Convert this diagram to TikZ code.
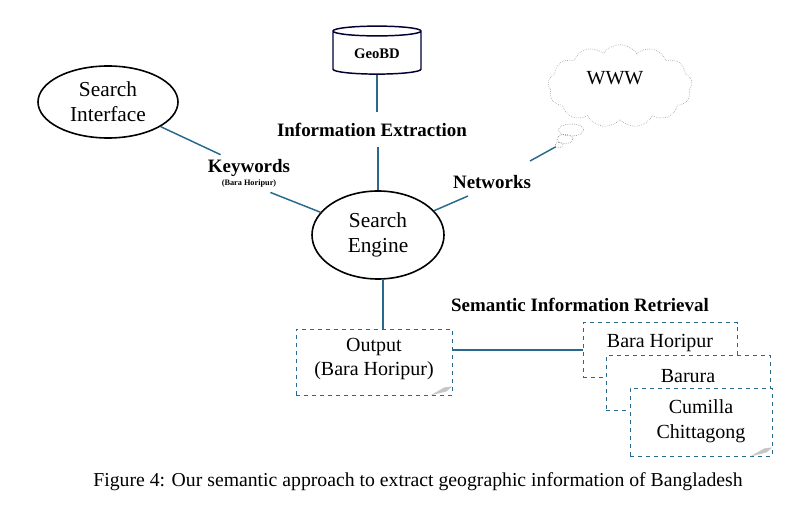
\documentclass[tikz,border=0pt]{standalone}
\usepackage{fontspec}
\setmainfont{Liberation Serif}
\usetikzlibrary{shapes.geometric,shapes.symbols}
\definecolor{teal1}{RGB}{40,105,140}
\begin{document}
\begin{tikzpicture}[x=0.75pt,y=-0.75pt,
  conn/.style={teal1,line width=1.1pt},
  ell/.style={ellipse,draw=black,line width=1.2pt,font=\fontsize{16}{18.5}\selectfont,align=center,inner sep=0pt},
  lbl/.style={font=\bfseries\fontsize{14.2}{16}\selectfont},
  txt/.style={font=\fontsize{15}{18.5}\selectfont,align=center},
  doc/.style={draw=teal1,dashed,line width=0.6pt,rectangle,inner sep=0pt},
  fold/.style={fill=gray!45}]
\useasboundingbox (0,0) rectangle (810,513);
\node[ell,minimum width=105pt,minimum height=54pt] (si) at (108,102) {Search\\Interface};
\node[ell,minimum width=99pt,minimum height=66pt] (se) at (378,235) {Search\\Engine};
\node[cylinder,shape border rotate=90,draw=black!80!blue,line width=1.1pt,aspect=0.18,minimum width=66pt,minimum height=36pt,font=\bfseries\fontsize{11}{13}\selectfont] (db) at (377,54) {GeoBD};
\node[lbl] (ie) at (372,130) {Information Extraction};
\coordinate (ie1) at (377,112); \coordinate (ie2) at (378,147);
\node[lbl] (kw) at (249,168) {Keywords};
\node[font=\bfseries\fontsize{6.2}{7}\selectfont] (kwb) at (249,184) {(Bara Horipur)};
\node[lbl] (nw) at (492,182) {Networks};
\node[cloud,cloud puffs=13,cloud puff arc=110,aspect=1.8,draw=gray,densely dotted,minimum width=108pt,minimum height=62pt] (www) at (620,86) {};
\node[txt] (wt) at (615,78) {WWW};
\node[ellipse,draw=gray!80!black,densely dotted,minimum width=19pt,minimum height=9pt,inner sep=0pt] (c1) at (571,130) {};
\node[ellipse,draw=gray!80!black,densely dotted,minimum width=12pt,minimum height=7pt,inner sep=0pt] (c2) at (565,139) {};
\node[ellipse,draw=gray!80!black,densely dotted,minimum width=6pt,minimum height=4pt,inner sep=0pt] (c3) at (559,145) {};
\coordinate (n2) at (468,196);
\coordinate (n3) at (530,161);
\node[lbl] (sir) at (580,305) {Semantic Information Retrieval};
% document boxes
\node[doc,fill=white,minimum width=115.5pt,minimum height=41pt] (b1) at (660,350) {};
\node[txt] at (660,343) {Bara Horipur};
\node[doc,fill=white,minimum width=123pt,minimum height=41pt] (b2) at (688,383) {};
\node[txt] at (688,376) {Barura};
\node[doc,fill=white,minimum width=106.5pt,minimum height=51pt] (b3) at (701,422) {};
\node[txt] at (701,421) {Cumilla\\Chittagong};
\node[doc,minimum width=117pt,minimum height=49.5pt] (out) at (374,362) {};
\node[txt] (ot) at (374,359) {Output\\(Bara Horipur)};
\fill[fold] (out.south east) ++(-22,0) -- ++(14,-8) -- ++(8,-1) -- ++(-6,5) -- cycle;
\fill[fold] (b3.south east) ++(-22,0) -- ++(14,-8) -- ++(8,-1) -- ++(-6,5) -- cycle;
% connectors
\draw[conn] (db) -- (ie1);
\draw[conn] (ie2) -- (se);
\draw[conn] (si) -- (kw);
\draw[conn] (kwb) -- (se);
\draw[conn] (se) -- (n2);
\draw[conn] (n3) -- (c3);
\draw[conn] (se.south -| 383,0) -- (out.north -| 383,0);
\draw[conn] (out.east |- 0,350) -- (b1.west);
\node[font=\fontsize{14.8}{17}\selectfont] (cap) at (418,482) {Figure 4: Our semantic approach to extract geographic information of Bangladesh};
\end{tikzpicture}
\end{document}
